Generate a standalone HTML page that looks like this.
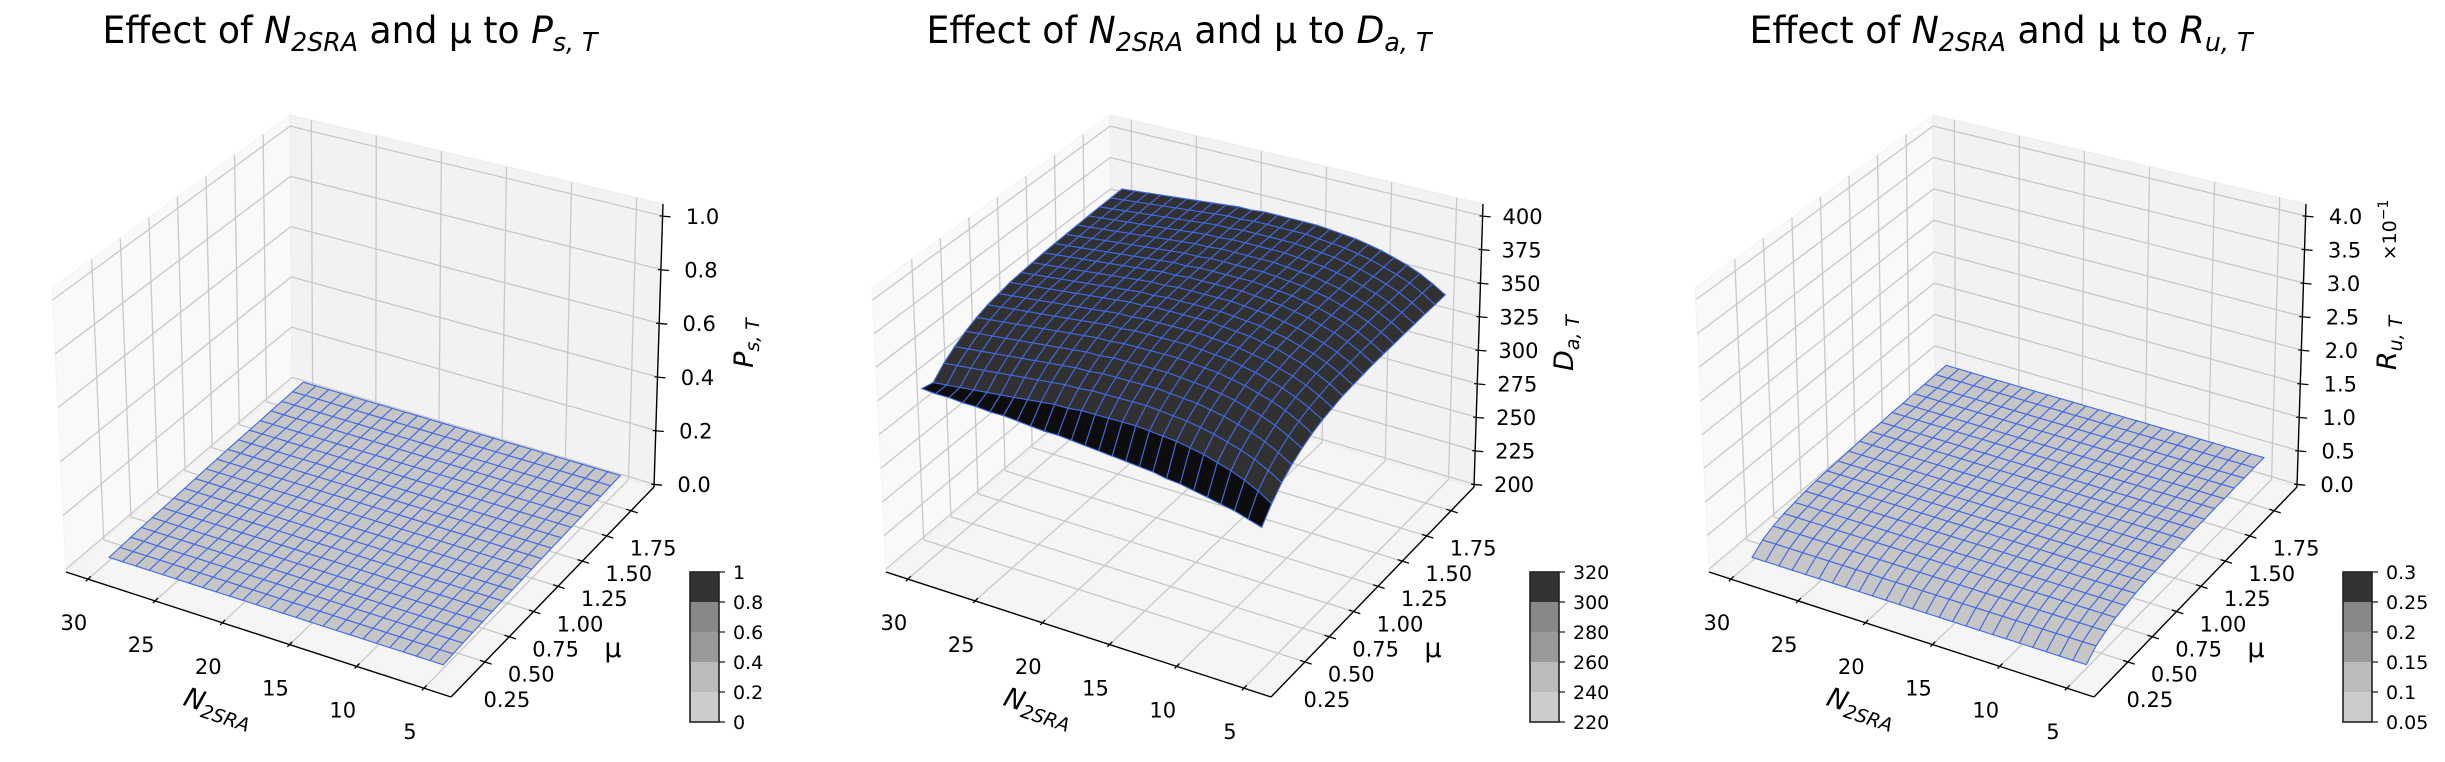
<!DOCTYPE html>
<html><head><meta charset="utf-8"><style>
html,body{margin:0;padding:0;background:#fff;}
svg{display:block;font-family:"DejaVu Sans","Liberation Sans",sans-serif;}
</style></head><body>
<svg id="fig" xmlns="http://www.w3.org/2000/svg" width="2445" height="762" viewBox="0 0 2445 762"></svg>
<script>
// ---------- data ----------
const nValues=[5,6,7,8,9,10,11,12,13,14,15,16,17,18,19,20,21,22,23,24,25,26,27,28,29,30];
const muValues=[0.1,0.2,0.3,0.4,0.5,0.6,0.7,0.8,0.9,1.0,1.1,1.2,1.3,1.4,1.5,1.6,1.7,1.8,1.9];
// panel 1: Ps,T
const psByN=[0.002,0.002,0.002,0.002,0.002,0.002,0.002,0.002,0.002,0.002,0.002,0.002,0.002,0.002,0.002,0.002,0.002,0.002,0.002,0.002,0.002,0.002,0.002,0.002,0.002,0.002];
const psByMu=[0.000,0.003,0.006,0.008,0.010,0.012,0.014,0.016,0.018,0.020,0.022,0.024,0.025,0.027,0.028,0.030,0.031,0.033,0.034];
// panel 2: Da,T
const daTopByN=[342,348,353,357,360,363,365,367,368,369,370,370,370,370,370,369,369,368,367,366,365,364,363,362,361,360];
const daMuOffset=[-36,-28,-22,-17,-13,-10,-8,-6,-5,-4,-3,-2.5,-2,-1.5,-1,-0.6,-0.3,0];
const daRowMin=[296,299,302,304,306,308,310,311,313,314,315,316,317,318,319,320,320,321,322,323,323,324,324,325,325,326];
// panel 3: Ru,T
const ruByN=[0.001,0.001,0.001,0.001,0.001,0.001,0.001,0.001,0.001,0.001,0.001,0.001,0.001,0.001,0.001,0.001,0.001,0.001,0.001,0.001,0.001,0.001,0.001,0.001,0.001,0.001];
const ruByMu=[0.000,0.012,0.019,0.024,0.027,0.030,0.032,0.033,0.034,0.035,0.036,0.037,0.037,0.038,0.038,0.039,0.039,0.040,0.040];
// ticks
const nTicks=[30,25,20,15,10,5];
const muTicks=[0.25,0.5,0.75,1.0,1.25,1.5,1.75];
const muTickLabels=["0.25","0.50","0.75","1.00","1.25","1.50","1.75"];
const zTicks1=[0,0.2,0.4,0.6,0.8,1.0];
const zTickLabels1=["0.0","0.2","0.4","0.6","0.8","1.0"];
const zTicks2=[200,225,250,275,300,325,350,375,400];
const zTickLabels2=["200","225","250","275","300","325","350","375","400"];
const zTicks3=[0,0.05,0.1,0.15,0.2,0.25,0.3,0.35,0.4];
const zTickLabels3=["0.0","0.5","1.0","1.5","2.0","2.5","3.0","3.5","4.0"];
const cbLevels1=[0,0.2,0.4,0.6,0.8,1];
const cbLabels1=["0","0.2","0.4","0.6","0.8","1"];
const cbLevels2=[220,240,260,280,300,320];
const cbLabels2=["220","240","260","280","300","320"];
const cbLevels3=[0.05,0.1,0.15,0.2,0.25,0.3];
const cbLabels3=["0.05","0.1","0.15","0.2","0.25","0.3"];
const cbColors=["#cccccc","#bbbbbb","#999999","#888888","#333333"];

// ---------- geometry ----------
const NS="http://www.w3.org/2000/svg";
const svg=document.getElementById('fig');
const C={L:[66,572],F:[451,697],R:[654,487],B:[292,380],Lt:[52,288],Ft:[447,390],Rt:[663,204],Bt:[290,115]};
function bil(a,b,c,d,u,v){
  return [(1-u)*(1-v)*a[0]+u*(1-v)*b[0]+u*v*c[0]+(1-u)*v*d[0],
          (1-u)*(1-v)*a[1]+u*(1-v)*b[1]+u*v*c[1]+(1-u)*v*d[1]];
}
function proj(ox,u,v,w){
  const f=bil(C.L,C.F,C.R,C.B,u,v), t=bil(C.Lt,C.Ft,C.Rt,C.Bt,u,v);
  return [ox+f[0]+w*(t[0]-f[0]), f[1]+w*(t[1]-f[1])];
}
function uOf(N){return 0.057+(30-N)*0.0349;}
function vOf(m){return 0.167+(m-0.25)*0.48;}
function mk(tag,attrs,parent){const e=document.createElementNS(NS,tag);for(const k in attrs)e.setAttribute(k,attrs[k]);(parent||svg).appendChild(e);return e;}
function line(g,p,q,stroke,sw){return mk('line',{x1:p[0].toFixed(1),y1:p[1].toFixed(1),x2:q[0].toFixed(1),y2:q[1].toFixed(1),stroke:stroke,'stroke-width':sw},g);}
function poly(g,pts,fill,stroke,sw){return mk('polygon',{points:pts.map(p=>p[0].toFixed(1)+','+p[1].toFixed(1)).join(' '),fill:fill,stroke:stroke||'none','stroke-width':sw||0},g);}
function shade(hex,f){const n=parseInt(hex.slice(1),16);const c=[n>>16,(n>>8)&255,n&255].map(x=>Math.round(x*f));return 'rgb('+c.join(',')+')';}

function mathText(g,x,y,size,parts,attrs){
  const t=mk('text',Object.assign({x:x,y:y,'font-size':size,'text-anchor':'middle',fill:'#000'},attrs||{}),g);
  parts.forEach(pt=>{
    const s=mk('tspan',{},t);
    if(pt.it) s.setAttribute('font-style','italic');
    if(pt.sub){s.setAttribute('font-size',(size*0.7).toFixed(1));s.setAttribute('dy',(size*0.22).toFixed(1));}
    else if(pt.back){s.setAttribute('dy',(-size*0.22).toFixed(1));}
    s.textContent=pt.t;
  });
  return t;
}

const panels=[
 {ox:0,zmin:0,zmax:1.0,zTicks:zTicks1,zLabels:zTickLabels1,cbL:cbLevels1,cbT:cbLabels1,cbx:690,title:['P','s, T'],tcx:350,tw:495,darkFirst:false,
  zf:(i,j)=>psByN[i]+psByMu[j]},
 {ox:820,zmin:200,zmax:400,zTicks:zTicks2,zLabels:zTickLabels2,cbL:cbLevels2,cbT:cbLabels2,cbx:1530,title:['D','a, T'],tcx:1179,tw:505,darkFirst:true,
  zf:(i,j)=>j===0?daRowMin[i]:daTopByN[i]+daMuOffset[j-1]},
 {ox:1643,zmin:0,zmax:0.4,zTicks:zTicks3,zLabels:zTickLabels3,cbL:cbLevels3,cbT:cbLabels3,cbx:2343,title:['R','u, T'],tcx:2001,tw:503,darkFirst:false,
  zf:(i,j)=>ruByN[i]+ruByMu[j]}
];

panels.forEach((P,pi)=>{
  const ox=P.ox;
  const wOf=z=>0.01+(z-P.zmin)/(P.zmax-P.zmin)*0.948;
  const g=mk('g',{});
  
  
  const pl=poly(g,[proj(ox,0,0,0),proj(ox,0,1,0),proj(ox,0,1,1),proj(ox,0,0,1)],'#f9f9f9','#f3f3f3',1);
  
  
  const pb=poly(g,[proj(ox,0,1,0),proj(ox,1,1,0),proj(ox,1,1,1),proj(ox,0,1,1)],'#f2f2f2','#ececec',1);
  
  
  const pf=poly(g,[proj(ox,0,0,0),proj(ox,1,0,0),proj(ox,1,1,0),proj(ox,0,1,0)],'#f5f5f5','#eeeeee',1);
  
  
  const gg=mk('g',{},g);
  
  
  const gc='#c8c8c8';
  P.zTicks.forEach(z=>{const w=wOf(z);line(gg,proj(ox,0,0,w),proj(ox,0,1,w),gc,1.3);line(gg,proj(ox,0,1,w),proj(ox,1,1,w),gc,1.3);});
  muTicks.forEach(m=>{const v=vOf(m);line(gg,proj(ox,0,v,0),proj(ox,0,v,1),gc,1.3);line(gg,proj(ox,0,v,0),proj(ox,1,v,0),gc,1.3);});
  nTicks.forEach(n=>{const u=uOf(n);line(gg,proj(ox,u,1,0),proj(ox,u,1,1),gc,1.3);line(gg,proj(ox,u,0,0),proj(ox,u,1,0),gc,1.3);});
  const ax=mk('g',{},g);
  
  
  line(ax,proj(ox,0,0,0),proj(ox,1,0,0),'#000',1.4);
  line(ax,proj(ox,1,0,0),proj(ox,1,1,0),'#000',1.4);
  line(ax,proj(ox,1,1,0),proj(ox,1,1,1),'#000',1.4);
  const vd=[204/292,-209/292], ud=[384/404,125/404];
  nTicks.forEach((n,k)=>{
    const p=proj(ox,uOf(n),0,0);
    line(ax,[p[0]-vd[0]*3,p[1]-vd[1]*3],[p[0]+vd[0]*4,p[1]+vd[1]*4],'#000',1.3);
    const t=mk('text',{x:(p[0]-14).toFixed(1),y:(p[1]+51).toFixed(1),'font-size':21,'text-anchor':'middle'},ax);
    
    
    t.textContent=String(n);
  });
  muTicks.forEach((m,k)=>{
    const p=proj(ox,1,vOf(m),0);
    line(ax,[p[0]-ud[0]*5,p[1]-ud[1]*5],[p[0]+ud[0]*7,p[1]+ud[1]*7],'#000',1.3);
    const t=mk('text',{x:(p[0]+22).toFixed(1),y:(p[1]+45).toFixed(1),'font-size':21,'text-anchor':'middle'},ax);
    
    
    t.textContent=muTickLabels[k];
  });
  P.zTicks.forEach((z,k)=>{
    const p=proj(ox,1,1,wOf(z));
    line(ax,[p[0]-3,p[1]],[p[0]+8,p[1]+1],'#000',1.3);
    const t=mk('text',{x:(p[0]+40).toFixed(1),y:(p[1]+8).toFixed(1),'font-size':21,'text-anchor':'middle'},ax);
    
    
    t.textContent=P.zLabels[k];
  });
  const nl=mathText(ax,ox+218,716,27,[{t:'N',it:1},{t:'2SRA',it:1,sub:1}],{transform:'rotate(18 '+(ox+218)+' 708)'});
  
  
  const ml=mk('text',{x:ox+613,y:657,'font-size':27,'text-anchor':'middle'},ax);
  
  
  ml.textContent='μ';
  const zl=mathText(ax,ox+744,352,27,[{t:P.title[0],it:1},{t:P.title[1],it:1,sub:1}],{transform:'rotate(-90 '+(ox+744)+' 343)'});
  
  
  if(pi===2){
    const ex=mk('text',{x:2390,y:236,'font-size':19,'text-anchor':'middle',transform:'rotate(-90 2390 230)'},ax);
    
    
    ex.innerHTML='×10<tspan dy="-8" font-size="14">−1</tspan>';
  }
  const sg=mk('g',{},g);
  
  
  const quads=[];
  for(let i=0;i<nValues.length-1;i++)for(let j=0;j<muValues.length-1;j++){
    const cs=[[i,j],[i+1,j],[i+1,j+1],[i,j+1]];
    const zs=cs.map(c=>P.zf(c[0],c[1]));
    const pts=cs.map((c,k)=>proj(ox,uOf(nValues[c[0]]),vOf(muValues[c[1]]),wOf(zs[k])));
    const uc=uOf((nValues[i]+nValues[i+1])/2), vc=vOf((muValues[j]+muValues[j+1])/2);
    quads.push({pts,zm:zs.reduce((a,b)=>a+b)/4,d:(1-uc)+vc,j:j});
  }
  quads.sort((a,b)=>b.d-a.d);
  quads.forEach(q=>{
    let ci=0;for(let k=1;k<P.cbL.length-1;k++) if(q.zm>=P.cbL[k]) ci=k;
    const a=q.pts;
    const cr=(a[2][0]-a[0][0])*(a[3][1]-a[1][1])-(a[2][1]-a[0][1])*(a[3][0]-a[1][0]);
    let f= cr>0 ? 0.97 : 0.3;
    if(P.darkFirst && q.j===0) f=0.25;
    const pg=poly(sg,a,shade(cbColors[ci],f),'#4169e1',1.1);
    
    
  });
  const cb=mk('g',{},g);
  
  
  const cy0=722,cy1=572,cw=29,n=cbColors.length;
  for(let k=0;k<n;k++){
    const y1=cy0-(cy0-cy1)*(k+1)/n, h=(cy0-cy1)/n;
    const r=mk('rect',{x:P.cbx,y:y1.toFixed(1),width:cw,height:h.toFixed(1),fill:cbColors[k]},cb);
    
    
  }
  mk('rect',{x:P.cbx,y:cy1,width:cw,height:cy0-cy1,fill:'none',stroke:'#222',"stroke-width":1.6},cb);
  P.cbL.forEach((lv,k)=>{
    const y=cy0-(cy0-cy1)*(lv-P.cbL[0])/(P.cbL[P.cbL.length-1]-P.cbL[0]);
    line(cb,[P.cbx+cw,y],[P.cbx+cw+6,y],'#222',1.3);
    const t=mk('text',{x:P.cbx+cw+14,y:(y+7).toFixed(1),'font-size':19},cb);
    
    
    t.textContent=P.cbT[k];
  });
  const tt=mathText(g,P.tcx,43,37,[{t:'Effect of '},{t:'N',it:1},{t:'2SRA',it:1,sub:1},{t:' and μ to ',back:1},{t:P.title[0],it:1},{t:P.title[1],it:1,sub:1}]);
  tt.setAttribute('textLength',P.tw);
  tt.setAttribute('lengthAdjust','spacingAndGlyphs');
  
  
});
</script>
</body></html>
